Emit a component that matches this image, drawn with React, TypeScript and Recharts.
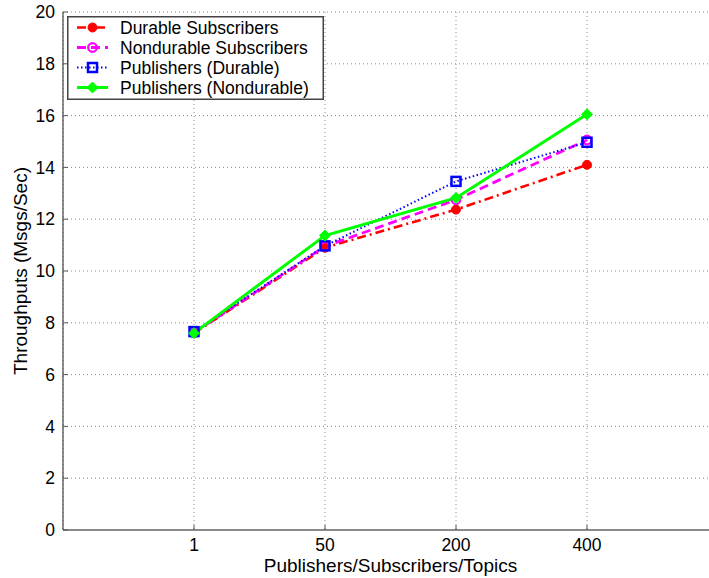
import { LineChart, Line, XAxis, YAxis, CartesianGrid, Label } from 'recharts'

const categories = ['1', '50', '200', '400']
const durableSubscribers = [7.6, 10.9, 12.37, 14.1]
const nondurableSubscribers = [7.62, 10.95, 12.75, 15.06]
const publishersDurable = [7.66, 10.97, 13.46, 14.97]
const publishersNondurable = [7.6, 11.37, 12.82, 16.05]
const yTicks = [0, 2, 4, 6, 8, 10, 12, 14, 16, 18, 20]
const xTicks = categories.map((_, i) => i + 1)

const data = categories.map((label, i) => ({
  pos: i + 1,
  label,
  durSub: durableSubscribers[i],
  nondurSub: nondurableSubscribers[i],
  pubDur: publishersDurable[i],
  pubNondur: publishersNondurable[i],
}))

const FONT = 'Arial, "Liberation Sans", Helvetica, sans-serif'
const tickFont = { fontSize: 17.5, fill: '#000', fontFamily: FONT }

type MarkerKind = 'dot' | 'circle' | 'square' | 'diamond'

function marker(kind: MarkerKind, color: string, cx: number, cy: number, key?: string) {
  if (kind === 'dot') return <circle key={key} cx={cx} cy={cy} r={4.5} fill={color} stroke={color} />
  if (kind === 'circle')
    return <circle key={key} cx={cx} cy={cy} r={4.3} fill="none" stroke={color} strokeWidth={2.2} />
  if (kind === 'square')
    return <rect key={key} x={cx - 4.5} y={cy - 4.5} width={9} height={9} fill="none" stroke={color} strokeWidth={2.5} />
  return (
    <polygon
      key={key}
      points={`${cx},${cy - 5.5} ${cx + 5.5},${cy} ${cx},${cy + 5.5} ${cx - 5.5},${cy}`}
      fill={color}
      stroke={color}
      strokeWidth={1}
    />
  )
}

const series = [
  { key: 'durSub', name: 'Durable Subscribers', color: '#ff0000', dash: '9 4 2 4', width: 2.6, kind: 'dot' as MarkerKind },
  { key: 'nondurSub', name: 'Nondurable Subscribers', color: '#ff00ff', dash: '9 5', width: 2.8, kind: 'circle' as MarkerKind },
  { key: 'pubDur', name: 'Publishers (Durable)', color: '#0000ff', dash: '1.5 2.5', width: 2, kind: 'square' as MarkerKind },
  { key: 'pubNondur', name: 'Publishers (Nondurable)', color: '#00ff00', dash: undefined, width: 3, kind: 'diamond' as MarkerKind },
]

// legend box drawn over the upper-left corner of the plot area
function LegendBox() {
  return (
    <svg width={257} height={84} style={{ position: 'absolute', left: 67, top: 16, display: 'block' }}>
      <rect x={0.75} y={0.75} width={255.5} height={82.5} fill="#fff" stroke="#444" strokeWidth={1.5} />
      {series.map((s, i) => {
        const cy = 11.5 + i * 20
        return (
          <g key={s.key}>
            <line x1={10} x2={41} y1={cy} y2={cy} stroke={s.color} strokeWidth={s.width} strokeDasharray={s.dash} />
            {marker(s.kind, s.color, 25.5, cy)}
            <text x={53} y={cy + 6} fontSize={17.5} fontFamily={FONT} fill="#000">
              {s.name}
            </text>
          </g>
        )
      })}
    </svg>
  )
}

export default function App() {
  return (
    <div style={{ position: 'absolute', left: 0, top: 0, width: 709, height: 578, overflow: 'hidden', background: '#fff' }}>
      <LineChart width={730} height={578} data={data} margin={{ top: 12, right: 12, bottom: 0, left: 0 }}>
        <CartesianGrid stroke="#8a8a8a" strokeDasharray="1 3" />
        <XAxis
          dataKey="pos"
          type="number"
          domain={[0, 5]}
          ticks={xTicks}
          tickFormatter={(v: number) => categories[v - 1]}
          height={48}
          tickSize={-5}
          tickMargin={14}
          tick={tickFont}
          axisLine={{ stroke: '#8a8a8a', strokeWidth: 2 }}
          tickLine={{ stroke: '#555' }}
        >
          <Label
            value="Publishers/Subscribers/Topics"
            position="insideBottom"
            offset={6}
            style={{ fontSize: 19, fontFamily: FONT, fill: '#000' }}
          />
        </XAxis>
        <XAxis
          xAxisId="top"
          orientation="top"
          dataKey="pos"
          type="number"
          domain={[0, 5]}
          ticks={xTicks}
          height={0}
          tickSize={-5}
          tick={false}
          axisLine={{ stroke: '#8a8a8a', strokeWidth: 2 }}
          tickLine={{ stroke: '#555' }}
        />
        <YAxis
          type="number"
          domain={[0, 20]}
          ticks={yTicks}
          width={63}
          tickSize={-5}
          tickMargin={13}
          tick={tickFont}
          axisLine={{ stroke: '#444', strokeWidth: 1.2 }}
          tickLine={{ stroke: '#555' }}
        >
          <Label
            value="Throughputs (Msgs/Sec)"
            angle={-90}
            position="insideLeft"
            offset={20}
            style={{ fontSize: 19, fontFamily: FONT, fill: '#000', textAnchor: 'middle' }}
          />
        </YAxis>
        {series.map(s => (
          <Line
            key={s.key}
            dataKey={s.key}
            name={s.name}
            stroke={s.color}
            strokeWidth={s.width}
            strokeDasharray={s.dash}
            isAnimationActive={false}
            dot={(p: any) => marker(s.kind, s.color, p.cx, p.cy, `${s.key}-${p.index}`)}
            activeDot={false}
          />
        ))}
      </LineChart>
      <LegendBox />
    </div>
  )
}
